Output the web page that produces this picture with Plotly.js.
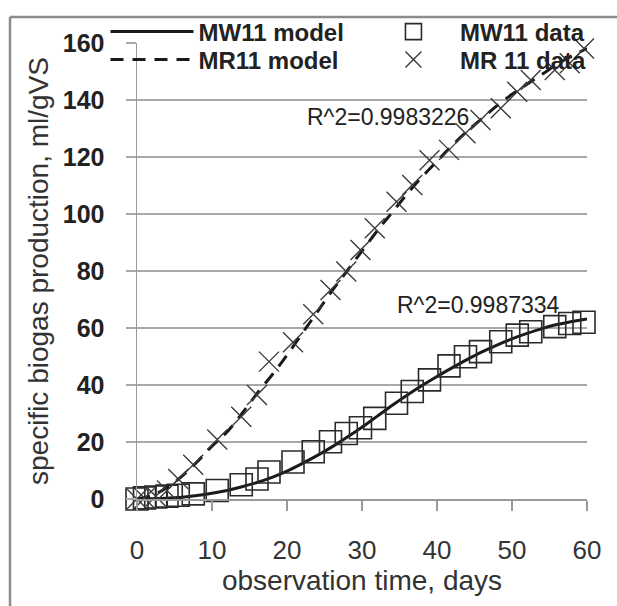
<!DOCTYPE html>
<html><head><meta charset="utf-8">
<script src="https://cdn.plot.ly/plotly-3.0.1.min.js"></script>
<style>html,body{margin:0;padding:0;background:#fff}</style>
</head><body><div id="chart" style="width:617px;height:606px"></div>
<script>
// observation days of the measurements
const days = [0, 1, 2.5, 4, 5.5, 7.5, 10.7, 13.9, 16, 17.6, 20.8, 23.5, 25.8, 27.9, 29.8, 31.7, 34.6, 36.7, 39, 41.6, 43.8, 45.8, 48.5, 50.7, 52.5, 55.7, 57.7, 59.6];
const mw11Data = [0, 0.4, 0.7, 1, 1.3, 1.8, 3, 5, 7, 9.5, 13, 16.6, 20.1, 23, 25, 28.3, 33.6, 37.7, 41.8, 46.7, 49.9, 51.7, 55.2, 57.5, 58.7, 60.5, 61.6, 62];
const mr11Data = [0, 0.3, 1, 3, 7, 12, 20.9, 28.9, 36.5, 48.2, 55, 64.8, 73.3, 79.8, 87.4, 95, 104.3, 110.2, 118.9, 122.5, 128.3, 133, 137.1, 142.9, 147, 150.5, 152.9, 158.1];
// model curves
const modelDays = [0, 2, 4, 6, 8, 10, 12, 14, 16, 18, 20, 22, 24, 26, 28, 30, 32, 34, 36, 38, 40, 42, 44, 46, 48, 50, 52, 54, 56, 58, 60];
const mw11Model = [0, 0.1, 0.3, 0.6, 1.2, 2, 3, 4.3, 5.8, 7.6, 9.8, 12.4, 15.2, 18.3, 21.7, 25.2, 29, 32.8, 36.4, 39.8, 43, 46, 48.9, 51.6, 54, 56.2, 58.1, 59.8, 61.2, 62.3, 63.2];
const mr11Model = [0, 1.2, 4, 8, 13, 18.5, 23.5, 30, 37, 43.5, 50.5, 58, 65.5, 73, 80, 87, 94, 100.5, 107, 113, 118.5, 124, 129, 133.5, 138, 142, 145.5, 149, 152.5, 155.5, 158];
const seriesNames = ['MW11 model', 'MW11 data', 'MR11 model', 'MR 11 data'];
const r2Labels = ['R^2=0.9983226', 'R^2=0.9987334'];
const r2Pos = [[22.4, 134], [34.4, 68]];
const xTicks = [0, 10, 20, 30, 40, 50, 60];
const yTicks = [0, 20, 40, 60, 80, 100, 120, 140, 160];

const ink = '#1a1a1a';
const traces = [
  {x: modelDays, y: mw11Model, name: seriesNames[0], mode: 'lines', type: 'scatter', legend: 'legend',
   line: {color: ink, width: 3, shape: 'spline'}, cliponaxis: false},
  {x: days, y: mw11Data, name: seriesNames[1], mode: 'markers', type: 'scatter', legend: 'legend2',
   marker: {symbol: 'square-open', size: 22, color: '#2a2a2a', line: {width: 1.6}}, cliponaxis: false},
  {x: modelDays, y: mr11Model, name: seriesNames[2], mode: 'lines', type: 'scatter', legend: 'legend3',
   line: {color: ink, width: 3, shape: 'spline', dash: '13px,9px'}, cliponaxis: false},
  {x: days, y: mr11Data, name: seriesNames[3], mode: 'markers', type: 'scatter', legend: 'legend4',
   marker: {symbol: 'x-thin-open', size: 20, color: '#3a3a3a', line: {width: 1.4, color: '#3a3a3a'}}, cliponaxis: false}
];

const fontSans = '"Liberation Sans", Arial, sans-serif';
const legendBase = {orientation: 'h', xanchor: 'left', yanchor: 'middle',
  bgcolor: 'rgba(0,0,0,0)', itemwidth: 83, tracegroupgap: 0,
  font: {family: fontSans, size: 24, color: '#222', weight: 'bold'}};
const leg = (x, y) => Object.assign({}, legendBase, {x: x, y: y});
const layout = {
  width: 617, height: 606,
  margin: {l: 137, r: 30, t: 43, b: 107, autoexpand: false},
  paper_bgcolor: '#fff', plot_bgcolor: '#fff',
  showlegend: true,
  legend: leg(-0.07, 1.0241),
  legend2: leg(0.511, 1.0241),
  legend3: leg(-0.07, 0.9627),
  legend4: leg(0.511, 0.9627),
  xaxis: {range: [0, 60], tickvals: xTicks, showgrid: false, zeroline: false,
    showline: true, linecolor: '#9a9a9a', linewidth: 1.5,
    ticks: 'outside', ticklen: 10, tickcolor: '#9a9a9a', tickwidth: 1.5,
    ticklabelstandoff: 17,
    tickfont: {family: fontSans, size: 26, color: '#333'},
    title: {text: 'observation time, days', font: {family: fontSans, size: 28, color: '#333'}, standoff: 6},
    automargin: false, fixedrange: true},
  yaxis: {range: [0, 160], tickvals: yTicks, showgrid: true, gridcolor: '#a8a8a8', gridwidth: 1.5,
    zeroline: false, showline: true, linecolor: '#9a9a9a', linewidth: 1.5,
    ticks: 'outside', ticklen: 10, tickcolor: '#a8a8a8', tickwidth: 1.5,
    ticklabelstandoff: 16,
    tickfont: {family: fontSans, size: 25, color: '#222', weight: 'bold'},
    title: {text: 'specific biogas production, ml/gVS', font: {family: fontSans, size: 28, color: '#333'}, standoff: 6},
    automargin: false, fixedrange: true},
  annotations: r2Labels.map((t, i) => ({x: r2Pos[i][0], y: r2Pos[i][1], text: t, xref: 'x', yref: 'y',
    xanchor: 'left', yanchor: 'middle', showarrow: false,
    font: {family: fontSans, size: 23, color: '#222'}})),
  shapes: [
    {type: 'line', xref: 'paper', yref: 'paper', x0: -0.2822, x1: -0.2822, y0: 1.057, y1: -0.24, line: {color: '#8c8c8c', width: 2.5}},
    {type: 'line', xref: 'paper', yref: 'paper', x0: -0.2822, x1: 1.07, y0: 1.057, y1: 1.057, line: {color: '#8c8c8c', width: 2.5}}
  ]
};
Plotly.newPlot('chart', traces, layout, {displayModeBar: false, staticPlot: true});
</script></body></html>
